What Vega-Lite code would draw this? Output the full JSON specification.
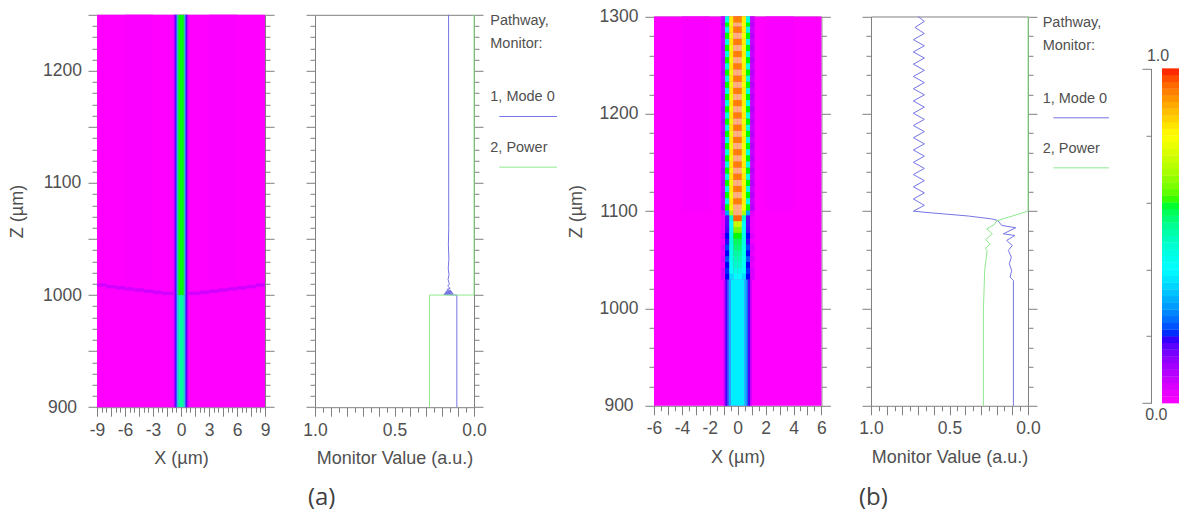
{"$schema":"https://vega.github.io/schema/vega-lite/v6.json","background":"white","padding":{"left":8,"top":5.8,"right":0,"bottom":0},"bounds":"flush","spacing":0,
"config":{"view":{"stroke":null},"axis":{"domainColor":"#808080","tickColor":"#808080","labelColor":"#505050","titleColor":"#505050","labelFont":"Liberation Sans","titleFont":"Liberation Sans","labelFontSize":17.5,"titleFontSize":18,"titleFontWeight":"normal","grid":false,"labelOverlap":false,"labelFlush":false,"labelBound":false}},
"datasets":{
"a":[{"x":0,"z":1000}],
"h1":[{"x":-9,"x2":9,"z":900,"z2":1250,"v":0},{"x":3,"x2":6,"z":1012,"z2":1250,"v":0.006},{"x":-6,"x2":-3,"z":1012,"z2":1250,"v":0.006},
{"x":-9,"x2":-8,"z":1007.5,"z2":1010.5,"v":0.06},{"x":-8,"x2":-7,"z":1006,"z2":1009,"v":0.06},{"x":-7,"x2":-6,"z":1005,"z2":1008,"v":0.06},{"x":-6,"x2":-5,"z":1004,"z2":1007,"v":0.06},{"x":-5,"x2":-4,"z":1003,"z2":1006,"v":0.06},{"x":-4,"x2":-3,"z":1002,"z2":1005,"v":0.06},{"x":-3,"x2":-2,"z":1001,"z2":1004,"v":0.06},{"x":-2,"x2":-0.8,"z":1000,"z2":1003,"v":0.06},
{"x":8,"x2":9,"z":1007.5,"z2":1010.5,"v":0.06},{"x":7,"x2":8,"z":1006,"z2":1009,"v":0.06},{"x":6,"x2":7,"z":1005,"z2":1008,"v":0.06},{"x":5,"x2":6,"z":1004,"z2":1007,"v":0.06},{"x":4,"x2":5,"z":1003,"z2":1006,"v":0.06},{"x":3,"x2":4,"z":1002,"z2":1005,"v":0.06},{"x":2,"x2":3,"z":1001,"z2":1004,"v":0.06},{"x":0.8,"x2":2,"z":1000,"z2":1003,"v":0.06},
{"x":-0.3,"x2":0.3,"z":1000,"z2":1250,"v":0.6},{"x":-0.4,"x2":-0.3,"z":1000,"z2":1250,"v":0.54},{"x":0.3,"x2":0.4,"z":1000,"z2":1250,"v":0.54},{"x":-0.5,"x2":-0.4,"z":1000,"z2":1250,"v":0.34},{"x":0.4,"x2":0.5,"z":1000,"z2":1250,"v":0.34},{"x":-0.6,"x2":-0.5,"z":1000,"z2":1250,"v":0.2},{"x":0.5,"x2":0.6,"z":1000,"z2":1250,"v":0.2},{"x":-0.7,"x2":-0.6,"z":1000,"z2":1250,"v":0.17},{"x":0.6,"x2":0.7,"z":1000,"z2":1250,"v":0.17},{"x":-0.8,"x2":-0.7,"z":1000,"z2":1250,"v":0.08},{"x":0.7,"x2":0.8,"z":1000,"z2":1250,"v":0.08},
{"x":-0.3,"x2":0.3,"z":900,"z2":1000,"v":0.52},{"x":-0.4,"x2":-0.3,"z":900,"z2":1000,"v":0.47},{"x":0.3,"x2":0.4,"z":900,"z2":1000,"v":0.47},{"x":-0.5,"x2":-0.4,"z":900,"z2":1000,"v":0.32},{"x":0.4,"x2":0.5,"z":900,"z2":1000,"v":0.32},{"x":-0.6,"x2":-0.5,"z":900,"z2":1000,"v":0.2},{"x":0.5,"x2":0.6,"z":900,"z2":1000,"v":0.2},{"x":-0.7,"x2":-0.6,"z":900,"z2":1000,"v":0.17},{"x":0.6,"x2":0.7,"z":900,"z2":1000,"v":0.17},{"x":-0.8,"x2":-0.7,"z":900,"z2":1000,"v":0.08},{"x":0.7,"x2":0.8,"z":900,"z2":1000,"v":0.08}],
"h3":[{"x":-6,"x2":6,"z":900,"z2":1300,"v":0},{"x":-4,"x2":-2,"z":1100,"z2":1300,"v":0.008},{"x":2,"x2":4,"z":1100,"z2":1300,"v":0.008},
{"x":-0.5,"x2":0.5,"z":900,"z2":1030,"v":0.38},{"x":-0.65,"x2":-0.5,"z":900,"z2":1030,"v":0.32},{"x":0.5,"x2":0.65,"z":900,"z2":1030,"v":0.32},{"x":-0.75,"x2":-0.65,"z":900,"z2":1030,"v":0.25},{"x":0.65,"x2":0.75,"z":900,"z2":1030,"v":0.25},{"x":-0.9,"x2":-0.75,"z":900,"z2":1030,"v":0.18},{"x":0.75,"x2":0.9,"z":900,"z2":1030,"v":0.18},{"x":-1,"x2":-0.9,"z":900,"z2":1030,"v":0.08},{"x":0.9,"x2":1,"z":900,"z2":1030,"v":0.08}],
"c3":[
{"x":-1.05,"z":1033,"v":0.05},{"x":-0.75,"z":1033,"v":0.2},{"x":-0.45,"z":1033,"v":0.36},{"x":-0.15,"z":1033,"v":0.4},{"x":0.15,"z":1033,"v":0.4},{"x":0.45,"z":1033,"v":0.36},{"x":0.75,"z":1033,"v":0.2},{"x":1.05,"z":1033,"v":0.05},
{"x":-1.05,"z":1039,"v":0.05},{"x":-0.75,"z":1039,"v":0.21},{"x":-0.45,"z":1039,"v":0.4},{"x":-0.15,"z":1039,"v":0.45},{"x":0.15,"z":1039,"v":0.45},{"x":0.45,"z":1039,"v":0.4},{"x":0.75,"z":1039,"v":0.21},{"x":1.05,"z":1039,"v":0.05},
{"x":-1.05,"z":1045,"v":0.03},{"x":-0.75,"z":1045,"v":0.2},{"x":-0.45,"z":1045,"v":0.42},{"x":-0.15,"z":1045,"v":0.48},{"x":0.15,"z":1045,"v":0.48},{"x":0.45,"z":1045,"v":0.42},{"x":0.75,"z":1045,"v":0.2},{"x":1.05,"z":1045,"v":0.03},
{"x":-1.05,"z":1051,"v":0.05},{"x":-0.75,"z":1051,"v":0.23},{"x":-0.45,"z":1051,"v":0.43},{"x":-0.15,"z":1051,"v":0.5},{"x":0.15,"z":1051,"v":0.5},{"x":0.45,"z":1051,"v":0.43},{"x":0.75,"z":1051,"v":0.23},{"x":1.05,"z":1051,"v":0.05},
{"x":-1.05,"z":1057,"v":0.03},{"x":-0.75,"z":1057,"v":0.2},{"x":-0.45,"z":1057,"v":0.44},{"x":-0.15,"z":1057,"v":0.52},{"x":0.15,"z":1057,"v":0.52},{"x":0.45,"z":1057,"v":0.44},{"x":0.75,"z":1057,"v":0.2},{"x":1.05,"z":1057,"v":0.03},
{"x":-1.05,"z":1063,"v":0.05},{"x":-0.75,"z":1063,"v":0.22},{"x":-0.45,"z":1063,"v":0.44},{"x":-0.15,"z":1063,"v":0.55},{"x":0.15,"z":1063,"v":0.55},{"x":0.45,"z":1063,"v":0.44},{"x":0.75,"z":1063,"v":0.22},{"x":1.05,"z":1063,"v":0.05},
{"x":-1.05,"z":1069,"v":0.02},{"x":-0.75,"z":1069,"v":0.19},{"x":-0.45,"z":1069,"v":0.45},{"x":-0.15,"z":1069,"v":0.57},{"x":0.15,"z":1069,"v":0.57},{"x":0.45,"z":1069,"v":0.45},{"x":0.75,"z":1069,"v":0.19},{"x":1.05,"z":1069,"v":0.02},
{"x":-1.05,"z":1075,"v":0.04},{"x":-0.75,"z":1075,"v":0.2},{"x":-0.45,"z":1075,"v":0.44},{"x":-0.15,"z":1075,"v":0.6},{"x":0.15,"z":1075,"v":0.6},{"x":0.45,"z":1075,"v":0.44},{"x":0.75,"z":1075,"v":0.2},{"x":1.05,"z":1075,"v":0.04},
{"x":-1.05,"z":1081,"v":0.02},{"x":-0.75,"z":1081,"v":0.18},{"x":-0.45,"z":1081,"v":0.42},{"x":-0.15,"z":1081,"v":0.65},{"x":0.15,"z":1081,"v":0.65},{"x":0.45,"z":1081,"v":0.42},{"x":0.75,"z":1081,"v":0.18},{"x":1.05,"z":1081,"v":0.02},
{"x":-1.05,"z":1087,"v":0.02},{"x":-0.75,"z":1087,"v":0.17},{"x":-0.45,"z":1087,"v":0.4},{"x":-0.15,"z":1087,"v":0.72},{"x":0.15,"z":1087,"v":0.72},{"x":0.45,"z":1087,"v":0.4},{"x":0.75,"z":1087,"v":0.17},{"x":1.05,"z":1087,"v":0.02},
{"x":-1.05,"z":1093,"v":0.02},{"x":-0.75,"z":1093,"v":0.17},{"x":-0.45,"z":1093,"v":0.48},{"x":-0.15,"z":1093,"v":0.95},{"x":0.15,"z":1093,"v":0.95},{"x":0.45,"z":1093,"v":0.48},{"x":0.75,"z":1093,"v":0.17},{"x":1.05,"z":1093,"v":0.02},
{"x":-1.05,"z":1099,"v":0.04},{"x":-0.75,"z":1099,"v":0.3},{"x":-0.45,"z":1099,"v":0.7},{"x":-0.15,"z":1099,"v":1.1},{"x":0.15,"z":1099,"v":1.1},{"x":0.45,"z":1099,"v":0.7},{"x":0.75,"z":1099,"v":0.3},{"x":1.05,"z":1099,"v":0.04},
{"x":-1.05,"z":1104,"v":0.09},{"x":-0.75,"z":1104,"v":0.6},{"x":-0.45,"z":1104,"v":0.78},{"x":-0.15,"z":1104,"v":1.1},{"x":0.15,"z":1104,"v":1.1},{"x":0.45,"z":1104,"v":0.78},{"x":0.75,"z":1104,"v":0.6},{"x":1.05,"z":1104,"v":0.09},
{"x":-1.05,"z":1110.3,"v":0.07},{"x":-0.75,"z":1110.3,"v":0.45},{"x":-0.45,"z":1110.3,"v":0.82},{"x":-0.15,"z":1110.3,"v":0.93},{"x":0.15,"z":1110.3,"v":0.93},{"x":0.45,"z":1110.3,"v":0.82},{"x":0.75,"z":1110.3,"v":0.45},{"x":1.05,"z":1110.3,"v":0.07},
{"x":-1.05,"z":1116.6,"v":0.09},{"x":-0.75,"z":1116.6,"v":0.6},{"x":-0.45,"z":1116.6,"v":0.78},{"x":-0.15,"z":1116.6,"v":1.1},{"x":0.15,"z":1116.6,"v":1.1},{"x":0.45,"z":1116.6,"v":0.78},{"x":0.75,"z":1116.6,"v":0.6},{"x":1.05,"z":1116.6,"v":0.09},
{"x":-1.05,"z":1122.9,"v":0.07},{"x":-0.75,"z":1122.9,"v":0.45},{"x":-0.45,"z":1122.9,"v":0.82},{"x":-0.15,"z":1122.9,"v":0.93},{"x":0.15,"z":1122.9,"v":0.93},{"x":0.45,"z":1122.9,"v":0.82},{"x":0.75,"z":1122.9,"v":0.45},{"x":1.05,"z":1122.9,"v":0.07},
{"x":-1.05,"z":1129.2,"v":0.09},{"x":-0.75,"z":1129.2,"v":0.6},{"x":-0.45,"z":1129.2,"v":0.78},{"x":-0.15,"z":1129.2,"v":1.1},{"x":0.15,"z":1129.2,"v":1.1},{"x":0.45,"z":1129.2,"v":0.78},{"x":0.75,"z":1129.2,"v":0.6},{"x":1.05,"z":1129.2,"v":0.09},
{"x":-1.05,"z":1135.5,"v":0.07},{"x":-0.75,"z":1135.5,"v":0.45},{"x":-0.45,"z":1135.5,"v":0.82},{"x":-0.15,"z":1135.5,"v":0.93},{"x":0.15,"z":1135.5,"v":0.93},{"x":0.45,"z":1135.5,"v":0.82},{"x":0.75,"z":1135.5,"v":0.45},{"x":1.05,"z":1135.5,"v":0.07},
{"x":-1.05,"z":1141.8,"v":0.09},{"x":-0.75,"z":1141.8,"v":0.6},{"x":-0.45,"z":1141.8,"v":0.78},{"x":-0.15,"z":1141.8,"v":1.1},{"x":0.15,"z":1141.8,"v":1.1},{"x":0.45,"z":1141.8,"v":0.78},{"x":0.75,"z":1141.8,"v":0.6},{"x":1.05,"z":1141.8,"v":0.09},
{"x":-1.05,"z":1148.1,"v":0.07},{"x":-0.75,"z":1148.1,"v":0.45},{"x":-0.45,"z":1148.1,"v":0.82},{"x":-0.15,"z":1148.1,"v":0.93},{"x":0.15,"z":1148.1,"v":0.93},{"x":0.45,"z":1148.1,"v":0.82},{"x":0.75,"z":1148.1,"v":0.45},{"x":1.05,"z":1148.1,"v":0.07},
{"x":-1.05,"z":1154.4,"v":0.09},{"x":-0.75,"z":1154.4,"v":0.6},{"x":-0.45,"z":1154.4,"v":0.78},{"x":-0.15,"z":1154.4,"v":1.1},{"x":0.15,"z":1154.4,"v":1.1},{"x":0.45,"z":1154.4,"v":0.78},{"x":0.75,"z":1154.4,"v":0.6},{"x":1.05,"z":1154.4,"v":0.09},
{"x":-1.05,"z":1160.7,"v":0.07},{"x":-0.75,"z":1160.7,"v":0.45},{"x":-0.45,"z":1160.7,"v":0.82},{"x":-0.15,"z":1160.7,"v":0.93},{"x":0.15,"z":1160.7,"v":0.93},{"x":0.45,"z":1160.7,"v":0.82},{"x":0.75,"z":1160.7,"v":0.45},{"x":1.05,"z":1160.7,"v":0.07},
{"x":-1.05,"z":1167,"v":0.09},{"x":-0.75,"z":1167,"v":0.6},{"x":-0.45,"z":1167,"v":0.78},{"x":-0.15,"z":1167,"v":1.1},{"x":0.15,"z":1167,"v":1.1},{"x":0.45,"z":1167,"v":0.78},{"x":0.75,"z":1167,"v":0.6},{"x":1.05,"z":1167,"v":0.09},
{"x":-1.05,"z":1173.3,"v":0.07},{"x":-0.75,"z":1173.3,"v":0.45},{"x":-0.45,"z":1173.3,"v":0.82},{"x":-0.15,"z":1173.3,"v":0.93},{"x":0.15,"z":1173.3,"v":0.93},{"x":0.45,"z":1173.3,"v":0.82},{"x":0.75,"z":1173.3,"v":0.45},{"x":1.05,"z":1173.3,"v":0.07},
{"x":-1.05,"z":1179.6,"v":0.09},{"x":-0.75,"z":1179.6,"v":0.6},{"x":-0.45,"z":1179.6,"v":0.78},{"x":-0.15,"z":1179.6,"v":1.1},{"x":0.15,"z":1179.6,"v":1.1},{"x":0.45,"z":1179.6,"v":0.78},{"x":0.75,"z":1179.6,"v":0.6},{"x":1.05,"z":1179.6,"v":0.09},
{"x":-1.05,"z":1185.9,"v":0.07},{"x":-0.75,"z":1185.9,"v":0.45},{"x":-0.45,"z":1185.9,"v":0.82},{"x":-0.15,"z":1185.9,"v":0.93},{"x":0.15,"z":1185.9,"v":0.93},{"x":0.45,"z":1185.9,"v":0.82},{"x":0.75,"z":1185.9,"v":0.45},{"x":1.05,"z":1185.9,"v":0.07},
{"x":-1.05,"z":1192.2,"v":0.09},{"x":-0.75,"z":1192.2,"v":0.6},{"x":-0.45,"z":1192.2,"v":0.78},{"x":-0.15,"z":1192.2,"v":1.1},{"x":0.15,"z":1192.2,"v":1.1},{"x":0.45,"z":1192.2,"v":0.78},{"x":0.75,"z":1192.2,"v":0.6},{"x":1.05,"z":1192.2,"v":0.09},
{"x":-1.05,"z":1198.5,"v":0.07},{"x":-0.75,"z":1198.5,"v":0.45},{"x":-0.45,"z":1198.5,"v":0.82},{"x":-0.15,"z":1198.5,"v":0.93},{"x":0.15,"z":1198.5,"v":0.93},{"x":0.45,"z":1198.5,"v":0.82},{"x":0.75,"z":1198.5,"v":0.45},{"x":1.05,"z":1198.5,"v":0.07},
{"x":-1.05,"z":1204.8,"v":0.09},{"x":-0.75,"z":1204.8,"v":0.6},{"x":-0.45,"z":1204.8,"v":0.78},{"x":-0.15,"z":1204.8,"v":1.1},{"x":0.15,"z":1204.8,"v":1.1},{"x":0.45,"z":1204.8,"v":0.78},{"x":0.75,"z":1204.8,"v":0.6},{"x":1.05,"z":1204.8,"v":0.09},
{"x":-1.05,"z":1211.1,"v":0.07},{"x":-0.75,"z":1211.1,"v":0.45},{"x":-0.45,"z":1211.1,"v":0.82},{"x":-0.15,"z":1211.1,"v":0.93},{"x":0.15,"z":1211.1,"v":0.93},{"x":0.45,"z":1211.1,"v":0.82},{"x":0.75,"z":1211.1,"v":0.45},{"x":1.05,"z":1211.1,"v":0.07},
{"x":-1.05,"z":1217.4,"v":0.09},{"x":-0.75,"z":1217.4,"v":0.6},{"x":-0.45,"z":1217.4,"v":0.78},{"x":-0.15,"z":1217.4,"v":1.1},{"x":0.15,"z":1217.4,"v":1.1},{"x":0.45,"z":1217.4,"v":0.78},{"x":0.75,"z":1217.4,"v":0.6},{"x":1.05,"z":1217.4,"v":0.09},
{"x":-1.05,"z":1223.7,"v":0.07},{"x":-0.75,"z":1223.7,"v":0.45},{"x":-0.45,"z":1223.7,"v":0.82},{"x":-0.15,"z":1223.7,"v":0.93},{"x":0.15,"z":1223.7,"v":0.93},{"x":0.45,"z":1223.7,"v":0.82},{"x":0.75,"z":1223.7,"v":0.45},{"x":1.05,"z":1223.7,"v":0.07},
{"x":-1.05,"z":1230,"v":0.09},{"x":-0.75,"z":1230,"v":0.6},{"x":-0.45,"z":1230,"v":0.78},{"x":-0.15,"z":1230,"v":1.1},{"x":0.15,"z":1230,"v":1.1},{"x":0.45,"z":1230,"v":0.78},{"x":0.75,"z":1230,"v":0.6},{"x":1.05,"z":1230,"v":0.09},
{"x":-1.05,"z":1236.3,"v":0.07},{"x":-0.75,"z":1236.3,"v":0.45},{"x":-0.45,"z":1236.3,"v":0.82},{"x":-0.15,"z":1236.3,"v":0.93},{"x":0.15,"z":1236.3,"v":0.93},{"x":0.45,"z":1236.3,"v":0.82},{"x":0.75,"z":1236.3,"v":0.45},{"x":1.05,"z":1236.3,"v":0.07},
{"x":-1.05,"z":1242.6,"v":0.09},{"x":-0.75,"z":1242.6,"v":0.6},{"x":-0.45,"z":1242.6,"v":0.78},{"x":-0.15,"z":1242.6,"v":1.1},{"x":0.15,"z":1242.6,"v":1.1},{"x":0.45,"z":1242.6,"v":0.78},{"x":0.75,"z":1242.6,"v":0.6},{"x":1.05,"z":1242.6,"v":0.09},
{"x":-1.05,"z":1248.9,"v":0.07},{"x":-0.75,"z":1248.9,"v":0.45},{"x":-0.45,"z":1248.9,"v":0.82},{"x":-0.15,"z":1248.9,"v":0.93},{"x":0.15,"z":1248.9,"v":0.93},{"x":0.45,"z":1248.9,"v":0.82},{"x":0.75,"z":1248.9,"v":0.45},{"x":1.05,"z":1248.9,"v":0.07},
{"x":-1.05,"z":1255.2,"v":0.09},{"x":-0.75,"z":1255.2,"v":0.6},{"x":-0.45,"z":1255.2,"v":0.78},{"x":-0.15,"z":1255.2,"v":1.1},{"x":0.15,"z":1255.2,"v":1.1},{"x":0.45,"z":1255.2,"v":0.78},{"x":0.75,"z":1255.2,"v":0.6},{"x":1.05,"z":1255.2,"v":0.09},
{"x":-1.05,"z":1261.5,"v":0.07},{"x":-0.75,"z":1261.5,"v":0.45},{"x":-0.45,"z":1261.5,"v":0.82},{"x":-0.15,"z":1261.5,"v":0.93},{"x":0.15,"z":1261.5,"v":0.93},{"x":0.45,"z":1261.5,"v":0.82},{"x":0.75,"z":1261.5,"v":0.45},{"x":1.05,"z":1261.5,"v":0.07},
{"x":-1.05,"z":1267.8,"v":0.09},{"x":-0.75,"z":1267.8,"v":0.6},{"x":-0.45,"z":1267.8,"v":0.78},{"x":-0.15,"z":1267.8,"v":1.1},{"x":0.15,"z":1267.8,"v":1.1},{"x":0.45,"z":1267.8,"v":0.78},{"x":0.75,"z":1267.8,"v":0.6},{"x":1.05,"z":1267.8,"v":0.09},
{"x":-1.05,"z":1274.1,"v":0.07},{"x":-0.75,"z":1274.1,"v":0.45},{"x":-0.45,"z":1274.1,"v":0.82},{"x":-0.15,"z":1274.1,"v":0.93},{"x":0.15,"z":1274.1,"v":0.93},{"x":0.45,"z":1274.1,"v":0.82},{"x":0.75,"z":1274.1,"v":0.45},{"x":1.05,"z":1274.1,"v":0.07},
{"x":-1.05,"z":1280.4,"v":0.09},{"x":-0.75,"z":1280.4,"v":0.6},{"x":-0.45,"z":1280.4,"v":0.78},{"x":-0.15,"z":1280.4,"v":1.1},{"x":0.15,"z":1280.4,"v":1.1},{"x":0.45,"z":1280.4,"v":0.78},{"x":0.75,"z":1280.4,"v":0.6},{"x":1.05,"z":1280.4,"v":0.09},
{"x":-1.05,"z":1286.7,"v":0.07},{"x":-0.75,"z":1286.7,"v":0.45},{"x":-0.45,"z":1286.7,"v":0.82},{"x":-0.15,"z":1286.7,"v":0.93},{"x":0.15,"z":1286.7,"v":0.93},{"x":0.45,"z":1286.7,"v":0.82},{"x":0.75,"z":1286.7,"v":0.45},{"x":1.05,"z":1286.7,"v":0.07},
{"x":-1.05,"z":1293,"v":0.09},{"x":-0.75,"z":1293,"v":0.6},{"x":-0.45,"z":1293,"v":0.78},{"x":-0.15,"z":1293,"v":1.1},{"x":0.15,"z":1293,"v":1.1},{"x":0.45,"z":1293,"v":0.78},{"x":0.75,"z":1293,"v":0.6},{"x":1.05,"z":1293,"v":0.09},
{"x":-1.05,"z":1297,"v":0.07},{"x":-0.75,"z":1297,"v":0.45},{"x":-0.45,"z":1297,"v":0.82},{"x":-0.15,"z":1297,"v":0.93},{"x":0.15,"z":1297,"v":0.93},{"x":0.45,"z":1297,"v":0.82},{"x":0.75,"z":1297,"v":0.45},{"x":1.05,"z":1297,"v":0.07}],
"m2":[{"s":"Mode 0","v":0.108,"z":900},{"s":"Mode 0","v":0.108,"z":1000},{"s":"Mode 0","v":0.19,"z":1000.5},{"s":"Mode 0","v":0.13,"z":1001},{"s":"Mode 0","v":0.185,"z":1001.5},{"s":"Mode 0","v":0.135,"z":1002},{"s":"Mode 0","v":0.18,"z":1002.5},{"s":"Mode 0","v":0.14,"z":1003},{"s":"Mode 0","v":0.175,"z":1003.5},{"s":"Mode 0","v":0.145,"z":1004},{"s":"Mode 0","v":0.17,"z":1005},{"s":"Mode 0","v":0.15,"z":1006},{"s":"Mode 0","v":0.165,"z":1008},{"s":"Mode 0","v":0.155,"z":1010},{"s":"Mode 0","v":0.163,"z":1014},{"s":"Mode 0","v":0.157,"z":1018},{"s":"Mode 0","v":0.162,"z":1024},{"s":"Mode 0","v":0.158,"z":1032},{"s":"Mode 0","v":0.161,"z":1045},{"s":"Mode 0","v":0.159,"z":1060},{"s":"Mode 0","v":0.16,"z":1250}],
"p2":[{"s":"Power","v":0.28,"z":900},{"s":"Power","v":0.28,"z":1000},{"s":"Power","v":0,"z":1000.01},{"s":"Power","v":0,"z":1250}],
"l2":[{"s":"Mode 0","v":-0.159,"v2":-0.522,"z":1159.3},{"s":"Power","v":-0.159,"v2":-0.522,"z":1114.1}],
"t2":[{"t":"Pathway,","v":-0.1025,"z":1244.3},{"t":"Monitor:","v":-0.1025,"z":1224.2},{"t":"1, Mode 0","v":-0.1025,"z":1176.5},{"t":"2, Power","v":-0.1025,"z":1131.4}],
"m4":[{"s":"Mode 0","v":0.093,"z":900},{"s":"Mode 0","v":0.093,"z":1028.8},{"s":"Mode 0","v":0.1,"z":1030},{"s":"Mode 0","v":0.114,"z":1032.2},{"s":"Mode 0","v":0.104,"z":1039},{"s":"Mode 0","v":0.119,"z":1045.9},{"s":"Mode 0","v":0.106,"z":1052.7},{"s":"Mode 0","v":0.125,"z":1059.6},{"s":"Mode 0","v":0.1,"z":1064.7},{"s":"Mode 0","v":0.136,"z":1069.9},{"s":"Mode 0","v":0.083,"z":1075},{"s":"Mode 0","v":0.157,"z":1076.7},{"s":"Mode 0","v":0.078,"z":1082.9},{"s":"Mode 0","v":0.167,"z":1085.3},{"s":"Mode 0","v":0.193,"z":1090.4},{"s":"Mode 0","v":0.231,"z":1092},{"s":"Mode 0","v":0.38,"z":1095},{"s":"Mode 0","v":0.656,"z":1098.8},{"s":"Mode 0","v":0.73,"z":1100},{"s":"Mode 0","v":0.66,"z":1106},{"s":"Mode 0","v":0.73,"z":1112.5},{"s":"Mode 0","v":0.66,"z":1118.8},{"s":"Mode 0","v":0.73,"z":1125},{"s":"Mode 0","v":0.66,"z":1131.3},{"s":"Mode 0","v":0.73,"z":1137.6},{"s":"Mode 0","v":0.66,"z":1143.9},{"s":"Mode 0","v":0.73,"z":1150.2},{"s":"Mode 0","v":0.66,"z":1156.5},{"s":"Mode 0","v":0.73,"z":1162.8},{"s":"Mode 0","v":0.66,"z":1169.1},{"s":"Mode 0","v":0.73,"z":1175.4},{"s":"Mode 0","v":0.66,"z":1181.7},{"s":"Mode 0","v":0.73,"z":1188},{"s":"Mode 0","v":0.66,"z":1194.3},{"s":"Mode 0","v":0.73,"z":1200.6},{"s":"Mode 0","v":0.66,"z":1206.9},{"s":"Mode 0","v":0.73,"z":1213.2},{"s":"Mode 0","v":0.66,"z":1219.5},{"s":"Mode 0","v":0.73,"z":1225.8},{"s":"Mode 0","v":0.66,"z":1232.1},{"s":"Mode 0","v":0.73,"z":1238.4},{"s":"Mode 0","v":0.66,"z":1244.7},{"s":"Mode 0","v":0.73,"z":1251},{"s":"Mode 0","v":0.66,"z":1257.3},{"s":"Mode 0","v":0.73,"z":1263.6},{"s":"Mode 0","v":0.66,"z":1269.9},{"s":"Mode 0","v":0.73,"z":1276.2},{"s":"Mode 0","v":0.66,"z":1282.5},{"s":"Mode 0","v":0.72,"z":1288.8},{"s":"Mode 0","v":0.66,"z":1295},{"s":"Mode 0","v":0.7,"z":1300}],
"p4":[{"s":"Power","v":0.284,"z":900},{"s":"Power","v":0.284,"z":998},{"s":"Power","v":0.276,"z":1039},{"s":"Power","v":0.26,"z":1059.6},{"s":"Power","v":0.273,"z":1062},{"s":"Power","v":0.241,"z":1066},{"s":"Power","v":0.269,"z":1071},{"s":"Power","v":0.227,"z":1076.7},{"s":"Power","v":0.263,"z":1081.8},{"s":"Power","v":0.214,"z":1086.3},{"s":"Power","v":0.199,"z":1090},{"s":"Power","v":0,"z":1100},{"s":"Power","v":0,"z":1300}],
"l4":[{"s":"Mode 0","v":-0.162,"v2":-0.516,"z":1195.9},{"s":"Power","v":-0.162,"v2":-0.516,"z":1144.5}],
"t4":[{"t":"Pathway,","v":-0.0936,"z":1293.1},{"t":"Monitor:","v":-0.0936,"z":1270.2},{"t":"1, Mode 0","v":-0.0936,"z":1215.4},{"t":"2, Power","v":-0.0936,"z":1164}],
"bar":[{"v":0.01},{"v":0.03},{"v":0.05},{"v":0.07},{"v":0.09},{"v":0.11},{"v":0.13},{"v":0.15},{"v":0.17},{"v":0.19},{"v":0.21},{"v":0.23},{"v":0.25},{"v":0.27},{"v":0.29},{"v":0.31},{"v":0.33},{"v":0.35},{"v":0.37},{"v":0.39},{"v":0.41},{"v":0.43},{"v":0.45},{"v":0.47},{"v":0.49},{"v":0.51},{"v":0.53},{"v":0.55},{"v":0.57},{"v":0.59},{"v":0.61},{"v":0.63},{"v":0.65},{"v":0.67},{"v":0.69},{"v":0.71},{"v":0.73},{"v":0.75},{"v":0.77},{"v":0.79},{"v":0.81},{"v":0.83},{"v":0.85},{"v":0.87},{"v":0.89},{"v":0.91},{"v":0.93},{"v":0.95},{"v":0.97},{"v":0.99}],
"bt":[{"t":"1.0","x":-0.235,"v":1.036},{"t":"0.0","x":-0.33,"v":-0.034}]
},
"hconcat":[
{"width":217.3,"height":392.4,"resolve":{"axis":{"x":"independent","y":"independent"}},"layer":[
{"data":{"name":"h1"},"mark":"rect","encoding":{
"x":{"field":"x","type":"quantitative","scale":{"domain":[-9,9],"range":[0,168],"nice":false,"zero":false},"axis":{"orient":"bottom","title":"X (µm)","values":[-9,-8.5,-8,-7.5,-7,-6.5,-6,-5.5,-5,-4.5,-4,-3.5,-3,-2.5,-2,-1.5,-1,-0.5,0,0.5,1,1.5,2,2.5,3,3.5,4,4.5,5,5.5,6,6.5,7,7.5,8,8.5,9],"tickSize":{"condition":{"test":"datum.value % 1.5 === 0","value":9},"value":5},"labelPadding":5,"titlePadding":11,"labelExpr":"datum.value % 3 === 0 ? '' + datum.value : ''"}},"x2":{"field":"x2"},
"y":{"field":"z","type":"quantitative","scale":{"domain":[900,1250],"range":[392.4,0],"nice":false,"zero":false},"axis":{"orient":"left","title":"Z (µm)","values":[900,910,920,930,940,950,960,970,980,990,1000,1010,1020,1030,1040,1050,1060,1070,1080,1090,1100,1110,1120,1130,1140,1150,1160,1170,1180,1190,1200,1210,1220,1230,1240,1250],"tickSize":{"condition":{"test":"datum.value % 50 === 0","value":9},"value":5},"labelAlign":"center","labelPadding":26,"titlePadding":16.5,"labelExpr":"datum.value % 100 === 0 ? '' + datum.value : ''"}},"y2":{"field":"z2"},
"color":{"field":"v","type":"quantitative","legend":null,"scale":{"domain":[0,0.2,0.4,0.6,0.8,1,1.05],"range":["#ff00ff","#0000ff","#00ffff","#00ff00","#ffff00","#ff0000","#ffffff"],"clamp":true}}}},
{"data":{"name":"a"},"mark":{"type":"point","opacity":0},"encoding":{
"x":{"field":"x","type":"quantitative","axis":{"orient":"top","offset":0,"title":null,"ticks":false,"labels":false}},
"y":{"field":"z","type":"quantitative","axis":{"orient":"right","offset":-49.3,"title":null,"labels":false,"values":[900,910,920,930,940,950,960,970,980,990,1000,1010,1020,1030,1040,1050,1060,1070,1080,1090,1100,1110,1120,1130,1140,1150,1160,1170,1180,1190,1200,1210,1220,1230,1240,1250],"tickSize":{"condition":{"test":"datum.value % 50 === 0","value":9},"value":5}}}}}
]},
{"width":338.3,"height":392.4,"resolve":{"axis":{"x":"independent","y":"independent"}},"layer":[
{"data":{"name":"a"},"mark":{"type":"point","opacity":0},"encoding":{
"x":{"datum":0.5,"type":"quantitative","scale":{"domain":[1,0],"range":[0,159],"nice":false,"zero":false},"axis":{"orient":"bottom","title":"Monitor Value (a.u.)","values":[0,0.05,0.1,0.15,0.2,0.25,0.3,0.35,0.4,0.45,0.5,0.55,0.6,0.65,0.7,0.75,0.8,0.85,0.9,0.95,1],"tickSize":{"condition":{"test":"abs(datum.value*10-round(datum.value*10))<0.01","value":9},"value":5},"labelPadding":5,"titlePadding":11,"labelExpr":"abs(datum.value*2-round(datum.value*2))<0.01 ? format(datum.value,'.1f') : ''"}},
"y":{"field":"z","type":"quantitative","scale":{"domain":[900,1250],"range":[392.4,0],"nice":false,"zero":false},"axis":{"orient":"left","title":null,"labels":false,"values":[900,910,920,930,940,950,960,970,980,990,1000,1010,1020,1030,1040,1050,1060,1070,1080,1090,1100,1110,1120,1130,1140,1150,1160,1170,1180,1190,1200,1210,1220,1230,1240,1250],"tickSize":{"condition":{"test":"datum.value % 50 === 0","value":9},"value":5}}}}},
{"data":{"name":"a"},"mark":{"type":"point","opacity":0},"encoding":{
"x":{"datum":0.5,"type":"quantitative","axis":{"orient":"top","title":null,"ticks":false,"labels":false}},
"y":{"field":"z","type":"quantitative","axis":{"orient":"right","offset":-179.3,"title":null,"labels":false,"values":[900,910,920,930,940,950,960,970,980,990,1000,1010,1020,1030,1040,1050,1060,1070,1080,1090,1100,1110,1120,1130,1140,1150,1160,1170,1180,1190,1200,1210,1220,1230,1240,1250],"tickSize":{"condition":{"test":"datum.value % 50 === 0","value":9},"value":5}}}}},
{"data":{"name":"m2"},"mark":{"type":"line","strokeWidth":1,"color":"#7474e4"},"encoding":{"order":{"field":"z","type":"quantitative"},"x":{"field":"v","type":"quantitative","axis":null},"y":{"field":"z","type":"quantitative","axis":null}}},
{"data":{"name":"p2"},"mark":{"type":"line","strokeWidth":1,"color":"#8ee88e"},"encoding":{"order":{"field":"z","type":"quantitative"},"x":{"field":"v","type":"quantitative","axis":null},"y":{"field":"z","type":"quantitative","axis":null}}},
{"data":{"name":"l2"},"mark":{"type":"rule","strokeWidth":1},"encoding":{"x":{"field":"v","type":"quantitative","axis":null},"x2":{"field":"v2"},"y":{"field":"z","type":"quantitative","axis":null},"color":{"field":"s","type":"nominal","legend":null,"scale":{"domain":["Mode 0","Power"],"range":["#7474e4","#8ee88e"]}}}},
{"data":{"name":"t2"},"mark":{"type":"text","align":"left","baseline":"middle","font":"Liberation Sans","fontSize":14.5,"color":"#505050"},"encoding":{"x":{"field":"v","type":"quantitative","axis":null},"y":{"field":"z","type":"quantitative","axis":null},"text":{"field":"t"}}},
{"data":{"values":[{"t":"(a)","v":0.958,"z":818.6}]},"mark":{"type":"text","align":"center","baseline":"middle","font":"Open Sans","fontSize":24,"color":"#404040"},"encoding":{"x":{"field":"v","type":"quantitative","axis":null},"y":{"field":"z","type":"quantitative","axis":null},"text":{"field":"t"}}}
]},
{"width":217,"height":392.4,"resolve":{"axis":{"x":"independent","y":"independent"}},"layer":[
{"data":{"name":"h3"},"mark":"rect","encoding":{
"x":{"field":"x","type":"quantitative","scale":{"domain":[-6,6],"range":[0,167.4],"nice":false,"zero":false},"axis":{"orient":"bottom","offset":-1.4,"title":"X (µm)","values":[-6,-5.5,-5,-4.5,-4,-3.5,-3,-2.5,-2,-1.5,-1,-0.5,0,0.5,1,1.5,2,2.5,3,3.5,4,4.5,5,5.5,6],"tickSize":{"condition":{"test":"datum.value % 1 === 0","value":9},"value":5},"labelPadding":5,"titlePadding":11,"labelExpr":"datum.value % 2 === 0 ? '' + datum.value : ''"}},"x2":{"field":"x2"},
"y":{"field":"z","type":"quantitative","scale":{"domain":[900,1300],"range":[391,1.7],"nice":false,"zero":false},"axis":{"orient":"left","title":"Z (µm)","values":[900,920,940,960,980,1000,1020,1040,1060,1080,1100,1120,1140,1160,1180,1200,1220,1240,1260,1280,1300],"tickSize":{"condition":{"test":"datum.value % 100 === 0","value":9},"value":5},"labelAlign":"center","labelPadding":26.5,"titlePadding":14,"labelExpr":"datum.value % 100 === 0 ? '' + datum.value : ''"}},"y2":{"field":"z2"},
"color":{"field":"v","type":"quantitative","legend":null,"scale":{"domain":[0,0.2,0.4,0.6,0.8,1,1.05],"range":["#ff00ff","#0000ff","#00ffff","#00ff00","#ffff00","#ff0000","#ffffff"],"clamp":true}}}},
{"data":{"name":"c3"},"mark":{"type":"rect","width":4.4,"height":6.4},"encoding":{"x":{"field":"x","type":"quantitative","axis":null},"y":{"field":"z","type":"quantitative","axis":null},"color":{"field":"v","type":"quantitative","legend":null}}},
{"data":{"name":"a"},"mark":{"type":"point","opacity":0},"encoding":{
"x":{"field":"x","type":"quantitative","axis":{"orient":"top","offset":-1.7,"title":null,"ticks":false,"labels":false}},
"y":{"field":"z","type":"quantitative","axis":{"orient":"right","offset":-49.6,"title":null,"labels":false,"values":[900,920,940,960,980,1000,1020,1040,1060,1080,1100,1120,1140,1160,1180,1200,1220,1240,1260,1280,1300],"tickSize":{"condition":{"test":"datum.value % 100 === 0","value":9},"value":5}}}}}
]},
{"width":290.7,"height":392.4,"resolve":{"axis":{"x":"independent","y":"independent"}},"layer":[
{"data":{"name":"a"},"mark":{"type":"point","opacity":0},"encoding":{
"x":{"datum":0.5,"type":"quantitative","scale":{"domain":[1,0],"range":[0,157],"nice":false,"zero":false},"axis":{"orient":"bottom","offset":-1.4,"title":"Monitor Value (a.u.)","values":[0,0.05,0.1,0.15,0.2,0.25,0.3,0.35,0.4,0.45,0.5,0.55,0.6,0.65,0.7,0.75,0.8,0.85,0.9,0.95,1],"tickSize":{"condition":{"test":"abs(datum.value*10-round(datum.value*10))<0.01","value":9},"value":5},"labelPadding":5,"titlePadding":11,"labelExpr":"abs(datum.value*2-round(datum.value*2))<0.01 ? format(datum.value,'.1f') : ''"}},
"y":{"field":"z","type":"quantitative","scale":{"domain":[900,1300],"range":[391,1.7],"nice":false,"zero":false},"axis":{"orient":"left","title":null,"labels":false,"values":[900,920,940,960,980,1000,1020,1040,1060,1080,1100,1120,1140,1160,1180,1200,1220,1240,1260,1280,1300],"tickSize":{"condition":{"test":"datum.value % 100 === 0","value":9},"value":5}}}}},
{"data":{"name":"a"},"mark":{"type":"point","opacity":0},"encoding":{
"x":{"datum":0.5,"type":"quantitative","axis":{"orient":"top","offset":-1.7,"title":null,"ticks":false,"labels":false}},
"y":{"field":"z","type":"quantitative","axis":{"orient":"right","offset":-133.7,"title":null,"labels":false,"values":[900,920,940,960,980,1000,1020,1040,1060,1080,1100,1120,1140,1160,1180,1200,1220,1240,1260,1280,1300],"tickSize":{"condition":{"test":"datum.value % 100 === 0","value":9},"value":5}}}}},
{"data":{"name":"m4"},"mark":{"type":"line","strokeWidth":1,"color":"#7474e4"},"encoding":{"order":{"field":"z","type":"quantitative"},"x":{"field":"v","type":"quantitative","axis":null},"y":{"field":"z","type":"quantitative","axis":null}}},
{"data":{"name":"p4"},"mark":{"type":"line","strokeWidth":1,"color":"#8ee88e"},"encoding":{"order":{"field":"z","type":"quantitative"},"x":{"field":"v","type":"quantitative","axis":null},"y":{"field":"z","type":"quantitative","axis":null}}},
{"data":{"name":"l4"},"mark":{"type":"rule","strokeWidth":1},"encoding":{"x":{"field":"v","type":"quantitative","axis":null},"x2":{"field":"v2"},"y":{"field":"z","type":"quantitative","axis":null},"color":{"field":"s","type":"nominal","legend":null,"scale":{"domain":["Mode 0","Power"],"range":["#7474e4","#8ee88e"]}}}},
{"data":{"name":"t4"},"mark":{"type":"text","align":"left","baseline":"middle","font":"Liberation Sans","fontSize":14.5,"color":"#505050"},"encoding":{"x":{"field":"v","type":"quantitative","axis":null},"y":{"field":"z","type":"quantitative","axis":null},"text":{"field":"t"}}},
{"data":{"values":[{"t":"(b)","v":0.985,"z":804.8}]},"mark":{"type":"text","align":"center","baseline":"middle","font":"Open Sans","fontSize":24,"color":"#404040"},"encoding":{"x":{"field":"v","type":"quantitative","axis":null},"y":{"field":"z","type":"quantitative","axis":null},"text":{"field":"t"}}}
]},
{"width":17,"height":392.4,"layer":[
{"data":{"name":"bar"},"mark":{"type":"rect","height":7},"encoding":{
"y":{"field":"v","type":"quantitative","scale":{"domain":[0,1],"range":[388.4,53.7],"nice":false,"zero":false},"axis":{"orient":"left","offset":11,"title":null,"labels":false,"values":[0,0.1,0.2,0.3,0.4,0.5,0.6,0.7,0.8,0.9,1],"tickSize":{"condition":{"test":"abs(datum.value*2-round(datum.value*2))<0.01","value":9},"value":5}}},
"color":{"field":"v","type":"quantitative","legend":null,"scale":{"domain":[0,0.2,0.4,0.6,0.8,1],"range":["#ff00ff","#0000ff","#00ffff","#00ff00","#ffff00","#ff0000"]}}}},
{"data":{"name":"bt"},"mark":{"type":"text","align":"center","baseline":"middle","font":"Liberation Sans","fontSize":16,"color":"#505050"},"encoding":{"x":{"field":"x","type":"quantitative","scale":{"domain":[0,1],"range":[0,17],"nice":false,"zero":false},"axis":null},"y":{"field":"v","type":"quantitative"},"text":{"field":"t"}}}
]}
]}
